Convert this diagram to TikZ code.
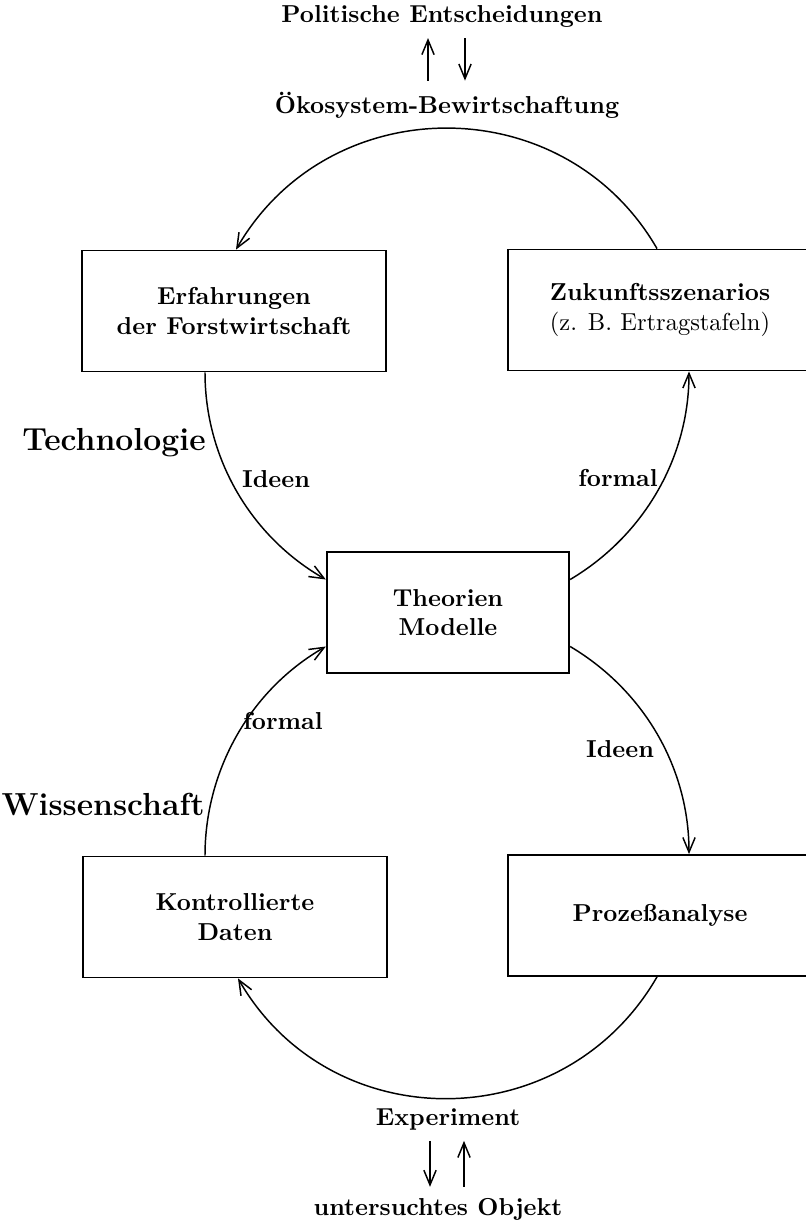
\documentclass[tikz,border=0pt]{standalone}
\usepackage{fontspec}
\usepackage{tikz}
\usetikzlibrary{arrows.meta, calc}
\tikzset{
  boxnode/.style={draw,line width=0.7pt,minimum width=124pt,minimum height=49.4pt,align=center,font=\bfseries,inner sep=2pt},
  midnode/.style={boxnode,minimum width=99pt},
  txtnode/.style={font=\bfseries,anchor=base},
  biglabel/.style={txtnode,font=\fontsize{13}{15.6}\selectfont\bfseries},
  curvedge/.style={-{Straight Barb[length=6pt,width=5pt]},line width=0.6pt},
  vedge/.style={curvedge,shorten <=1pt,shorten >=1pt},
}

\begin{document}
\begin{tikzpicture}[x=0.408pt,y=-0.408pt]
  \useasboundingbox (0,0) rectangle (806,1222);
  \node[txtnode] (nPol) at (442,22) {Politische Entscheidungen};
  \node[txtnode] (nOek) at (447,113) {Ökosystem-Bewirtschaftung};
  \node[boxnode] (nErf) at (234,311) {Erfahrungen\\der Forstwirtschaft};
  \node[boxnode] (nZuk) at (660,310) {Zukunftsszenarios\\\normalfont(z. B. Ertragstafeln)};
  \node[midnode] (nTheo) at (448,612.5) {Theorien\\Modelle};
  \node[boxnode] (nKon) at (235,917) {Kontrollierte\\Daten};
  \node[boxnode] (nProz) at (660,915.5) {Prozeßanalyse};
  \node[txtnode] (nExp) at (448,1125) {Experiment};
  \node[txtnode] (nObj) at (438,1215) {untersuchtes Objekt};
  \node[biglabel] (nTech) at (114,450) {Technologie};
  \node[biglabel] (nWiss) at (103,815) {Wissenschaft};
  \node[txtnode] (nIdA) at (276,487) {Ideen};
  \node[txtnode] (nForA) at (618,486) {formal};
  \node[txtnode] (nForB) at (283,729) {formal};
  \node[txtnode] (nIdB) at (620,757) {Ideen};
  \draw[vedge] ($(nOek.north)+(-19,0)$) -- ($(nPol.south)+(-14,0)$);
  \draw[vedge] ($(nPol.south)+(23,0)$) -- ($(nOek.north)+(18,0)$);
  \draw[curvedge] ($(nZuk.north)+(-3,0)$) .. controls +(-93,-161) and +(93,-161) .. ($(nErf.north)+(2,0)$);
  \draw[curvedge] ($(nErf.south)+(-29,0)$) .. controls +(0,86) and +(-75,-43) .. ($(nTheo.west)+(0,-33)$);
  \draw[curvedge] ($(nTheo.east)+(0,-33)$) .. controls +(74,-44) and +(0,86) .. ($(nZuk.south)+(29,0)$);
  \draw[curvedge] ($(nTheo.east)+(0,34)$) .. controls +(74,44) and +(0,-86) .. ($(nProz.north)+(29,0)$);
  \draw[curvedge] ($(nProz.south)+(-3,0)$) .. controls +(-93,161) and +(93,161) .. ($(nKon.south)+(3,0)$);
  \draw[curvedge] ($(nKon.north)+(-30,0)$) .. controls +(0,-86) and +(-75,43) .. ($(nTheo.west)+(0,34)$);
  \draw[vedge] ($(nExp.south)+(-18,0)$) -- ($(nObj.north)+(-8,0)$);
  \draw[vedge] ($(nObj.north)+(26,0)$) -- ($(nExp.south)+(16,0)$);
\end{tikzpicture}
\end{document}
